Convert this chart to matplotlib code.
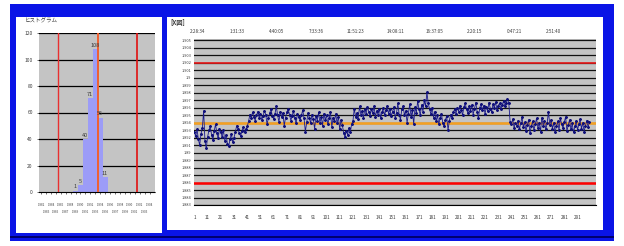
import matplotlib

matplotlib.use("Agg")
import matplotlib.pyplot as plt
from matplotlib.patches import Rectangle
import numpy as np

plt.rcParams["font.family"] = ["Noto Sans CJK JP", "DejaVu Sans"]

W, H = 624, 246

# histogram
HIST_TITLE = "ヒストグラム"
BIN_LOW = [round(1.882 + 0.001 * i, 3) for i in range(24)]
BIN_COUNT = [0, 0, 0, 0, 0, 0, 0, 1, 5, 40, 71, 108, 56, 11, 0, 0, 0, 0, 0, 0, 0, 0, 0, 0]
HIST_YTICKS = [0, 20, 40, 60, 80, 100, 120]
LSL, USL, CENTER = 1.886, 1.902, 1.894

# X chart
X_TITLE = "[X図]"
X_VALUES = [
    1.8928, 1.8922, 1.8931, 1.8918, 1.8910, 1.8925, 1.8933, 1.8956, 1.8915, 1.8906,
    1.8921, 1.8930, 1.8935, 1.8924, 1.8917, 1.8929, 1.8938, 1.8926, 1.8919, 1.8932,
    1.8927, 1.8921, 1.8930, 1.8916, 1.8924, 1.8912, 1.8909, 1.8918, 1.8925, 1.8914,
    1.8920, 1.8928, 1.8936, 1.8932, 1.8926, 1.8922, 1.8929, 1.8934, 1.8927, 1.8931,
    1.8935, 1.8942, 1.8951, 1.8946, 1.8954, 1.8948, 1.8943, 1.8950, 1.8955, 1.8947,
    1.8952, 1.8944, 1.8949, 1.8956, 1.8951, 1.8938, 1.8946, 1.8953, 1.8958, 1.8949,
    1.8945, 1.8952, 1.8962, 1.8950, 1.8941, 1.8955, 1.8948, 1.8953, 1.8936, 1.8947,
    1.8954, 1.8958, 1.8951, 1.8943, 1.8949, 1.8956, 1.8946, 1.8939, 1.8952, 1.8948,
    1.8944, 1.8950, 1.8957, 1.8946, 1.8928, 1.8941, 1.8953, 1.8947, 1.8939, 1.8951,
    1.8945, 1.8932, 1.8949, 1.8943, 1.8954, 1.8940, 1.8948, 1.8936, 1.8952, 1.8944,
    1.8950, 1.8938, 1.8946, 1.8955, 1.8934, 1.8947, 1.8942, 1.8952, 1.8939, 1.8948,
    1.8931, 1.8944, 1.8937, 1.8926, 1.8921, 1.8929, 1.8924, 1.8933, 1.8927, 1.8938,
    1.8942, 1.8959, 1.8948, 1.8953, 1.8945, 1.8962, 1.8951, 1.8956, 1.8947, 1.8958,
    1.8952, 1.8961, 1.8955, 1.8949, 1.8958, 1.8953, 1.8962, 1.8948, 1.8956, 1.8951,
    1.8959, 1.8946, 1.8954, 1.8960, 1.8950, 1.8957, 1.8963, 1.8952, 1.8958, 1.8949,
    1.8955, 1.8961, 1.8947, 1.8953, 1.8966, 1.8951, 1.8944, 1.8958, 1.8962, 1.8950,
    1.8956, 1.8940, 1.8952, 1.8965, 1.8948, 1.8957, 1.8938, 1.8961, 1.8953, 1.8969,
    1.8958, 1.8950, 1.8964, 1.8955, 1.8970, 1.8962, 1.8981, 1.8966, 1.8958, 1.8952,
    1.8960, 1.8947, 1.8955, 1.8942, 1.8950, 1.8938, 1.8946, 1.8952, 1.8940, 1.8935,
    1.8944, 1.8949, 1.8930, 1.8943, 1.8951, 1.8946, 1.8954, 1.8958, 1.8952, 1.8960,
    1.8955, 1.8963, 1.8957, 1.8950, 1.8961, 1.8966, 1.8958, 1.8953, 1.8962, 1.8956,
    1.8964, 1.8951, 1.8959, 1.8967, 1.8955, 1.8946, 1.8960, 1.8965, 1.8957, 1.8963,
    1.8952, 1.8961, 1.8956, 1.8967, 1.8959, 1.8954, 1.8965, 1.8960, 1.8968, 1.8957,
    1.8963, 1.8966, 1.8958, 1.8964, 1.8969, 1.8962, 1.8967, 1.8972, 1.8966, 1.8941,
    1.8938, 1.8945, 1.8933, 1.8940, 1.8936, 1.8943, 1.8931, 1.8939, 1.8948, 1.8934,
    1.8941, 1.8929, 1.8937, 1.8944, 1.8926, 1.8935, 1.8942, 1.8930, 1.8938, 1.8946,
    1.8933, 1.8940, 1.8928, 1.8947, 1.8936, 1.8943, 1.8931, 1.8939, 1.8955, 1.8937,
    1.8944, 1.8932, 1.8940, 1.8927, 1.8935, 1.8942, 1.8930, 1.8946, 1.8938, 1.8933,
    1.8941, 1.8948, 1.8929, 1.8937, 1.8944, 1.8931, 1.8939, 1.8927, 1.8935, 1.8943,
    1.8930, 1.8938, 1.8945, 1.8932, 1.8940, 1.8928, 1.8936, 1.8943, 1.8934, 1.8941,
]
X_YTICKS = [round(1.883 + 0.001 * i, 3) for i in range(23)]
X_BOTTOM_TICKS = list(range(1, 300, 10))
TOP_TICK_POS = [1, 31, 61, 91, 121, 151, 181, 211, 241, 271]
TOP_TICK_LABELS = ["2:28:34", "1:31:33", "4:40:05", "7:33:36", "11:51:23",
                   "14:08:11", "16:37:05", "2:20:15", "0:47:21", "2:51:40"]

BLUE = "#0a14e6"
PLOT_BG = "#c4c4c4"
TXT = "#3a3a3a"


def px_rect(x0, y0, x1, y1):
    return [x0 / W, 1 - y1 / H, (x1 - x0) / W, (y1 - y0) / H]


def frame_rect(fig, x0, y0, x1, y1, color, z=0):
    l, b, w, h = px_rect(x0, y0, x1, y1)
    fig.add_artist(Rectangle((l, b), w, h, transform=fig.transFigure,
                             facecolor=color, edgecolor="none", zorder=z))


def main():
    fig = plt.figure(figsize=(W / 100, H / 100), dpi=100)
    fig.patch.set_facecolor("white")
    frame_rect(fig, 10, 4, 614, 241, BLUE, z=-3)
    frame_rect(fig, 10, 236, 614, 238, "#00006e", z=-2)
    frame_rect(fig, 16, 17, 162, 233, "white", z=-1)
    frame_rect(fig, 167, 17, 603, 230, "white", z=-1)

    # histogram panel
    ax = fig.add_axes(px_rect(39, 33, 155, 192))
    ax.set_facecolor(PLOT_BG)
    ax.bar(BIN_LOW, BIN_COUNT, width=0.001, align="edge", color="#9c9cf7",
           edgecolor="none", zorder=2)
    for lo, c in zip(BIN_LOW, BIN_COUNT):
        if c:
            ax.text(lo + 0.0005, c + 1, str(c), ha="center", va="bottom",
                    fontsize=4, color=TXT, zorder=4)
    for v in HIST_YTICKS[1:]:
        ax.axhline(v, color="black", lw=0.9, zorder=1)
    ax.axvline(LSL, color="#e83030", lw=1.0, zorder=3)
    ax.axvline(USL, color="#e01010", lw=1.2, zorder=3)
    ax.axvline(CENTER, color="#f06030", lw=1.4, zorder=3)
    ax.set_xlim(1.8821, 1.9056)
    ax.set_ylim(0, 120)
    ax.set_yticks(HIST_YTICKS)
    ax.set_yticklabels([str(v) for v in HIST_YTICKS], fontsize=3.5, color=TXT)
    centers = [lo + 0.0005 for lo in BIN_LOW[:23]]
    ax.set_xticks(centers)
    ax.set_xticklabels([])
    for i, lo in enumerate(BIN_LOW[:23]):
        ax.text(lo + 0.0005, -0.08 - 0.045 * (i % 2), f"{lo:.3f}",
                transform=ax.get_xaxis_transform(), ha="center", va="center",
                fontsize=2.1, color=TXT)
    ax.tick_params(length=1.5, width=0.4, pad=3)
    for s in ax.spines.values():
        s.set_visible(False)
    ax.spines["bottom"].set_visible(True)
    ax.spines["bottom"].set_linestyle((0, (2, 1)))
    ax.spines["bottom"].set_linewidth(0.8)
    fig.text(25 / W, 1 - 21 / H, HIST_TITLE, fontsize=4, color=TXT, va="center")

    # X chart panel
    bx = fig.add_axes(px_rect(194, 39, 596, 205))
    bx.set_facecolor(PLOT_BG)
    for v in X_YTICKS:
        bx.axhline(v, color="#111111", lw=0.9, zorder=1)
    bx.axhline(USL, color="#e81818", lw=1.2, zorder=2)
    bx.axhline(LSL, color="#ff0000", lw=1.8, zorder=2)
    bx.axhline(CENTER, color="#f5a020", lw=1.8, zorder=2)
    xs = np.arange(1, len(X_VALUES) + 1)
    bx.plot(xs, X_VALUES, color="#1a1a8c", lw=0.6, marker="D", ms=1.0,
            mec="#10107a", mfc="#10107a", zorder=3)
    bx.set_xlim(0.7, 305)
    bx.set_ylim(1.8832, 1.9052)
    bx.set_yticks(X_YTICKS)
    bx.set_yticklabels([f"{v:g}" for v in X_YTICKS], fontsize=2.8, color=TXT)
    bx.set_xticks(X_BOTTOM_TICKS)
    bx.set_xticklabels([str(v) for v in X_BOTTOM_TICKS], fontsize=3.3, color=TXT)
    bx.tick_params(length=0, pad=2)
    bx.tick_params(axis="x", pad=7)
    for s in bx.spines.values():
        s.set_visible(False)
    bx.spines["bottom"].set_visible(True)
    bx.spines["bottom"].set_linestyle((0, (2, 1)))
    bx.spines["bottom"].set_linewidth(0.8)
    for pos, lab in zip(TOP_TICK_POS, TOP_TICK_LABELS):
        bx.text(pos + 2, 1.045, lab, transform=bx.get_xaxis_transform(),
                ha="center", va="center", fontsize=3.3, color=TXT)
    fig.text(170 / W, 1 - 23 / H, X_TITLE, fontsize=4.5, color=TXT, va="center",
             fontweight="bold")

    fig.savefig("out.png", dpi=100)
    plt.close(fig)


if __name__ == "__main__":
    main()
